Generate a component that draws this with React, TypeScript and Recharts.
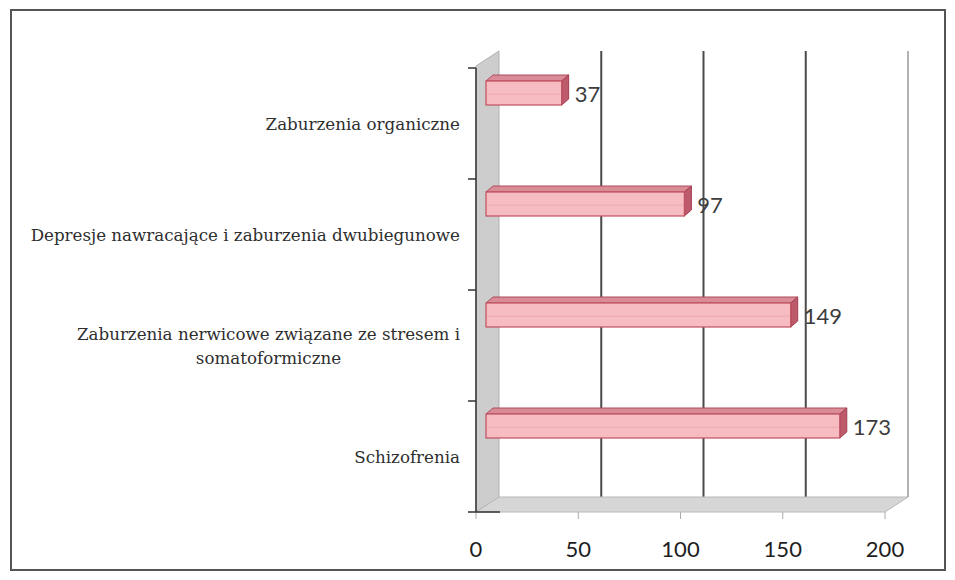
import React from 'react';
import {
  BarChart,
  Bar,
  XAxis,
  YAxis,
  CartesianGrid,
  ReferenceArea,
  LabelList,
} from 'recharts';

const categories = [
  'Zaburzenia organiczne',
  'Depresje nawracające i zaburzenia dwubiegunowe',
  'Zaburzenia nerwicowe związane ze stresem i somatoformiczne',
  'Schizofrenia',
];
const counts = [37, 97, 149, 173];
const xTicks = [0, 50, 100, 150, 200];

const data = categories.map((name, i) => ({ name, value: counts[i] }));

// 3D look
const DEPTH_X = 23;
const DEPTH_Y = 15;
const BAR_DX = 10;
const BAR_DY = -31;
const FACE = 7;

const LABEL_SIZE = 16.7;
const LABEL_FONT = `${LABEL_SIZE}px 'DejaVu Serif'`;

let ctx: CanvasRenderingContext2D | null = null;
function textWidth(s: string) {
  if (!ctx) ctx = document.createElement('canvas').getContext('2d');
  if (!ctx) return s.length * 9.5;
  ctx.font = LABEL_FONT;
  return ctx.measureText(s).width;
}

function wrap(s: string, max: number) {
  const words = s.split(' ');
  const lines: string[] = [];
  let cur = '';
  words.forEach((w) => {
    const next = cur ? cur + ' ' + w : w;
    if (cur && textWidth(next) > max) {
      lines.push(cur);
      cur = w;
    } else cur = next;
  });
  if (cur) lines.push(cur);
  return lines;
}

function CategoryTick(props: any) {
  const { x, y, payload, index } = props;
  const lines = wrap(String(payload.value), 452);
  const block = Math.max(...lines.map(textWidth));
  const cx = x - block / 2;
  const half = payload.offset || 55.5;
  const axisX = x + 16;
  const lh = 24;
  const startY = y - ((lines.length - 1) * lh) / 2;
  return (
    <g>
      <line x1={axisX - 8} x2={axisX} y1={y - half} y2={y - half} stroke="#333" strokeWidth={1.5} />
      {index === categories.length - 1 && (
        <line x1={axisX - 8} x2={axisX + 24} y1={y + half} y2={y + half} stroke="#333" strokeWidth={1.5} />
      )}
      {lines.map((l, i) => (
        <text
          key={i}
          x={cx}
          y={startY + i * lh}
          textAnchor="middle"
          dominantBaseline="central"
          fontFamily="'DejaVu Serif', serif"
          fontSize={LABEL_SIZE}
          fill="#2e2e2e"
        >
          {l}
        </text>
      ))}
    </g>
  );
}

function Bar3D(props: any) {
  const { x, y, width, height } = props;
  const x0 = x + BAR_DX;
  const y0 = y + BAR_DY;
  const x1 = x0 + width;
  const y1 = y0 + height;
  return (
    <g>
      <polygon
        points={`${x0},${y0} ${x0 + FACE},${y0 - 6} ${x1 + FACE},${y0 - 6} ${x1},${y0}`}
        fill="#d98c98"
        stroke="#b04a5c"
        strokeWidth={1}
      />
      <polygon
        points={`${x1},${y0} ${x1 + FACE},${y0 - 6} ${x1 + FACE},${y1 - 6} ${x1},${y1}`}
        fill="#bd5a6b"
        stroke="#a43e50"
        strokeWidth={1}
      />
      <rect x={x0} y={y0} width={width} height={height} fill="#f6bcc2" stroke="#c0505f" strokeWidth={1.2} />
      <line x1={x0 + 1} x2={x1 - 1} y1={y0 + height * 0.55} y2={y0 + height * 0.55} stroke="#f0a8b0" strokeWidth={1} />
    </g>
  );
}

function ValueLabel(props: any) {
  const { x, y, width, height, value } = props;
  return (
    <text
      x={x + BAR_DX + width + FACE + 6}
      y={y + BAR_DY + height / 2}
      dominantBaseline="central"
      fontFamily="Lato, 'Open Sans', sans-serif"
      fontSize={22}
      fill="#3c3c3c"
    >
      {value}
    </text>
  );
}

function WallFloor(props: any) {
  const { x, y, width, height } = props;
  const b = y + height;
  return (
    <g>
      <polygon
        points={`${x},${b} ${x},${y - 2} ${x + DEPTH_X},${y - 2 - DEPTH_Y} ${x + DEPTH_X},${b - DEPTH_Y}`}
        fill="#cdcdcd"
        stroke="#b0b0b0"
      />
      <polygon
        points={`${x},${b} ${x + width},${b} ${x + width + DEPTH_X},${b - DEPTH_Y} ${x + DEPTH_X},${b - DEPTH_Y}`}
        fill="#d6d6d6"
        stroke="#b8b8b8"
      />
      <line
        x1={x + width + DEPTH_X}
        x2={x + width + DEPTH_X}
        y1={y - 2 - DEPTH_Y}
        y2={b - DEPTH_Y}
        stroke="#9a9a9a"
        strokeWidth={1.5}
      />
    </g>
  );
}

function GridLine(props: any) {
  const { x1, y1, y2, index } = props;
  if (index === 0 || index === xTicks.length - 1) return <g key={props.key} />;
  return (
    <line
      key={props.key}
      x1={x1 + DEPTH_X}
      x2={x1 + DEPTH_X}
      y1={y1 - 2 - DEPTH_Y}
      y2={y2 - DEPTH_Y}
      stroke="#4a4a4a"
      strokeWidth={2}
    />
  );
}

export default function App() {
  return (
    <div style={{ position: 'absolute', left: 0, top: 0, width: 955, height: 580, background: '#fff' }}>
      <div
        style={{
          position: 'absolute',
          left: 10,
          top: 9,
          width: 932,
          height: 558,
          border: '2px solid #555',
        }}
      />
      <div style={{ position: 'absolute', left: 0, top: 0 }}>
        <BarChart
          width={955}
          height={580}
          data={data}
          layout="vertical"
          margin={{ top: 68, right: 70, bottom: 18, left: 0 }}
          barSize={24}
        >
          <ReferenceArea x1={0} x2={200} ifOverflow="visible" shape={<WallFloor />} />
          <CartesianGrid horizontal={false} vertical={(p: any) => <GridLine {...p} />} />
          <XAxis
            type="number"
            domain={[0, 200]}
            ticks={xTicks}
            axisLine={false}
            tickLine={{ stroke: '#aaa' }}
            tickSize={7}
            tickMargin={22}
            height={50}
            tick={{ fontFamily: 'Lato, sans-serif', fontSize: 22, fill: '#1e1e1e' }}
          />
          <YAxis
            type="category"
            dataKey="name"
            width={476}
            axisLine={{ stroke: '#333', strokeWidth: 1.5 }}
            tickLine={false}
            tickSize={8}
            tickMargin={8}
            tick={<CategoryTick />}
            interval={0}
          />
          <Bar dataKey="value" shape={<Bar3D />} isAnimationActive={false}>
            <LabelList dataKey="value" content={<ValueLabel />} />
          </Bar>
        </BarChart>
      </div>
    </div>
  );
}
